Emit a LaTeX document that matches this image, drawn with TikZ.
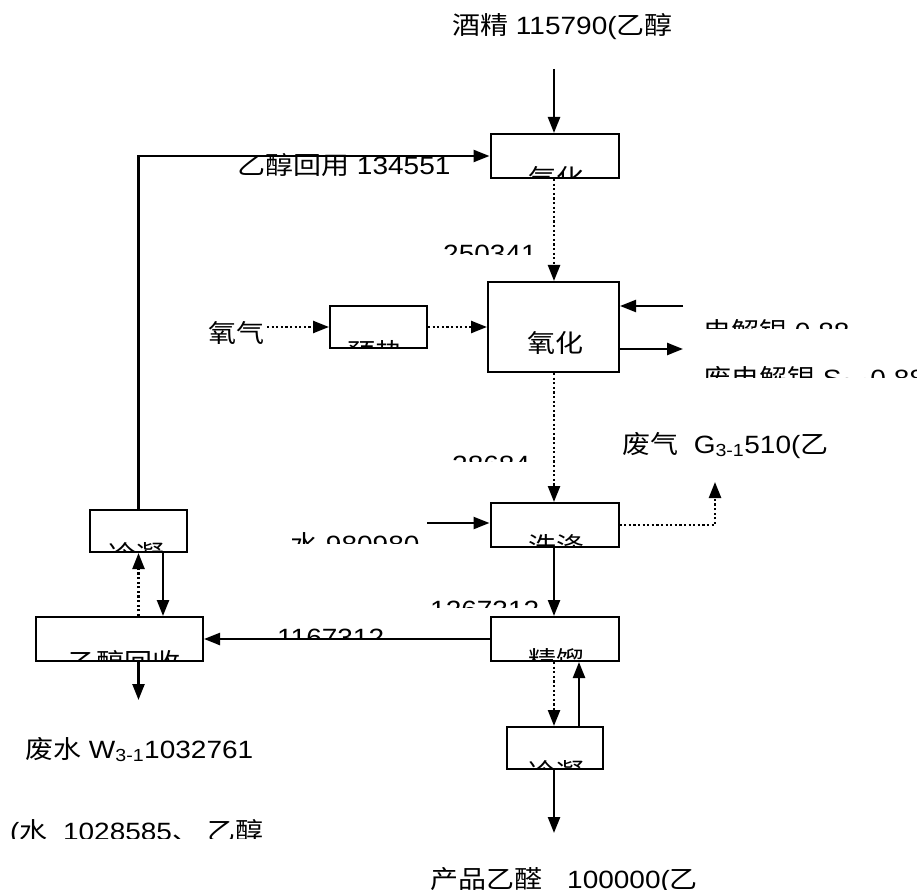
\documentclass[tikz,border=0pt]{standalone}
\usepackage{fontspec}
\setmainfont{Liberation Sans}[FakeStretch=1.12]
\newfontfamily\cjk{Noto Sans CJK SC}[FakeStretch=1.12]
\newcommand\zh[1]{{\cjk #1}}
\usetikzlibrary{arrows.meta}
\tikzset{
  box/.style={draw, line width=2pt, inner sep=0pt},
  lbl/.style={inner sep=0pt, anchor=base west, font=\fontsize{25}{30}\selectfont},
  arr/.style={line width=2.4pt, -{Triangle[length=16pt,width=12pt]}},
  darr/.style={arr, dash pattern=on 2.2pt off 2.4pt},
  plain/.style={line width=2.4pt}
}
\begin{document}
\begin{tikzpicture}[x=1pt,y=-1pt]
\useasboundingbox (0,0) rectangle (917,890);
\clip (0,0) rectangle (917,890);

% boxes
\node[box, minimum width=128pt, minimum height=44pt] (qh)  at (554.5,156) {};
\node[box, minimum width=131pt, minimum height=90pt] (yh)  at (553.5,327) {};
\node[box, minimum width=97pt,  minimum height=42pt] (yr)  at (378.5,327) {};
\node[box, minimum width=128pt, minimum height=44pt] (xd)  at (554.5,525) {};
\node[box, minimum width=97pt,  minimum height=42pt] (ln1) at (138.5,531) {};
\node[box, minimum width=167pt, minimum height=44pt] (hs)  at (119.5,639) {};
\node[box, minimum width=128pt, minimum height=44pt] (jl)  at (554.5,639) {};
\node[box, minimum width=96pt,  minimum height=42pt] (ln2) at (554.5,748) {};

% texts inside boxes (clipped as in the reference)
\begin{scope}\clip (491,134) rectangle (619,178);
\node[lbl] (tqh) at (528,188) {\zh{气化}};\end{scope}
\node[lbl] (tyh) at (527,352) {\zh{氧化}};
\begin{scope}\clip (330,306) rectangle (427,348);
\node[lbl] (tyr) at (347,361) {\zh{预热}};\end{scope}
\begin{scope}\clip (491,503) rectangle (619,547);
\node[lbl] (txd) at (528,555) {\zh{洗涤}};\end{scope}
\begin{scope}\clip (90,510) rectangle (187,552);
\node[lbl] (tln1) at (108,563) {\zh{冷凝}};\end{scope}
\begin{scope}\clip (36,617) rectangle (203,661);
\node[lbl] (ths) at (68,671) {\zh{乙醇回收}};\end{scope}
\begin{scope}\clip (491,617) rectangle (619,661);
\node[lbl] (tjl) at (528,669) {\zh{精馏}};\end{scope}
\begin{scope}\clip (507,727) rectangle (603,769);
\node[lbl] (tln2) at (528,781) {\zh{冷凝}};\end{scope}

% free labels
\node[lbl] (title) at (452,35) {\zh{酒精} 115790(\zh{乙醇}};
\node[lbl] (rec) at (237,175) {\zh{乙醇回用} 134551};
\node[lbl, outer xsep=3pt] (oxy) at (205,342) {\zh{氧气}};
\node[lbl] (gasl) at (622,453) {\zh{废气}\ \ G\textsubscript{3-1}510(\zh{乙}};
\node[lbl] (wwl) at (25,758) {\zh{废水} W\textsubscript{3-1}1032761};
\begin{scope}\clip (0,800) rectangle (400,838);
\node[lbl] (wwl2) at (10,840) {(\zh{水}\ \ 1028585\zh{、}\ \zh{乙醇}};\end{scope}
\node[lbl] (prodl) at (430,888) {\zh{产品乙醛}\hspace{25pt}100000(\zh{乙}};

% clipped flow labels
\begin{scope}\clip (400,230) rectangle (545,255);
\node[lbl] (f1) at (443,263) {250341};\end{scope}
\begin{scope}\clip (690,300) rectangle (917,328);
\node[lbl] (ag1) at (703,340) {\zh{电解银} 0.88};\end{scope}
\begin{scope}\clip (690,350) rectangle (917,377);
\node[lbl] (ag2) at (703,387) {\zh{废电解银} S\textsubscript{3-1}0.88};\end{scope}
\begin{scope}\clip (400,440) rectangle (545,461);
\node[lbl] (f2) at (452,473) {28684};\end{scope}
\begin{scope}\clip (250,520) rectangle (480,543);
\node[lbl] (wat) at (290,553) {\zh{水} 980980};\end{scope}
\begin{scope}\clip (250,610) rectangle (480,637);
\node[lbl] (f3) at (277,646) {1167312};\end{scope}
\begin{scope}\clip (400,585) rectangle (545,607);
\node[lbl] (f4) at (430,618) {1267312};\end{scope}

% coordinates for free ends
\coordinate (in1) at (554,69);
\coordinate (agin) at (683,306);
\coordinate (agout) at (683,349);
\coordinate (win) at (427,523);
\coordinate (gas) at (715,482);
\coordinate (dn) at (163,0);
\coordinate (up) at (579,0);
\coordinate (wwout) at (138.5,700);
\coordinate (prod) at (554,833);

% connectors
\draw[arr] (in1) -- (in1 |- qh.north);
\draw[arr] (ln1.north) |- (qh.west);
\draw[darr] (in1 |- qh.south) -- (in1 |- yh.north);
\draw[darr] (oxy.east |- yr.west) -- (yr.west);
\draw[darr] (yr.east) -- (yr.east -| yh.west);
\draw[arr] (agin) -- (agin -| yh.east);
\draw[arr] (agout -| yh.east) -- (agout);
\draw[darr] (in1 |- yh.south) -- (in1 |- xd.north);
\draw[arr] (win) -- (win -| xd.west);
\draw[darr] (xd.east) -| (gas);
\draw[arr] (in1 |- xd.south) -- (in1 |- jl.north);
\draw[arr] (jl.west) -- (jl.west -| hs.east);
\draw[darr] (ln1.south |- hs.north) -- (ln1.south);
\draw[arr] (dn |- ln1.south) -- (dn |- hs.north);
\draw[arr] (ln1.south |- hs.south) -- (wwout);
\draw[darr] (in1 |- jl.south) -- (in1 |- ln2.north);
\draw[arr] (up |- ln2.north) -- (up |- jl.south);
\draw[arr] (in1 |- ln2.south) -- (prod);
\end{tikzpicture}
\end{document}
